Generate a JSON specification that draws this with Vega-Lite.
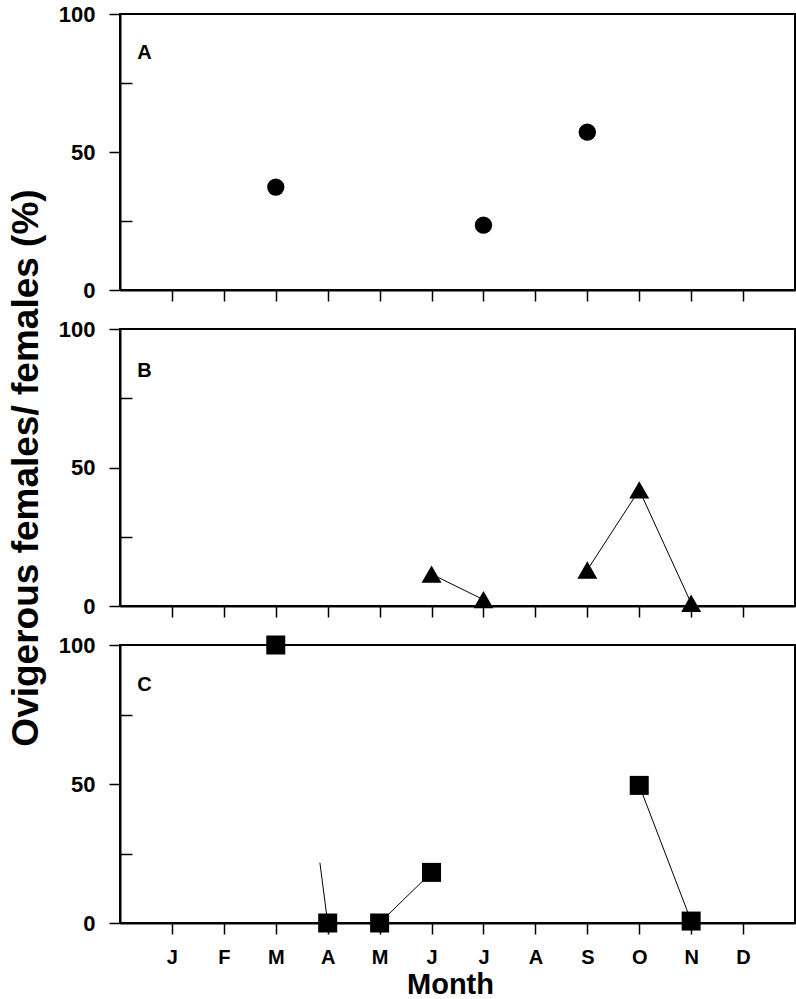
{
  "$schema": "https://vega.github.io/schema/vega-lite/v6.json",
  "padding": {"left": 6, "top": 2, "right": 0, "bottom": 0},
  "background": "white",
  "datasets": {
    "points": [
      {"panel": "A", "month": 3, "pct": 37.3},
      {"panel": "A", "month": 7, "pct": 23.5},
      {"panel": "A", "month": 9, "pct": 57.2},
      {"panel": "B", "month": 6, "pct": 11.5},
      {"panel": "B", "month": 7, "pct": 2.3},
      {"panel": "B", "month": 9, "pct": 13},
      {"panel": "B", "month": 10, "pct": 41.9},
      {"panel": "B", "month": 11, "pct": 1},
      {"panel": "C", "month": 3, "pct": 100},
      {"panel": "C", "month": 4, "pct": 0},
      {"panel": "C", "month": 5, "pct": 0},
      {"panel": "C", "month": 6, "pct": 18.2},
      {"panel": "C", "month": 10, "pct": 49.5},
      {"panel": "C", "month": 11, "pct": 0.7}
    ],
    "lines": [
      {"panel": "B", "seg": 1, "month": 6, "pct": 11.5},
      {"panel": "B", "seg": 1, "month": 7, "pct": 2.3},
      {"panel": "B", "seg": 2, "month": 9, "pct": 13},
      {"panel": "B", "seg": 2, "month": 10, "pct": 41.9},
      {"panel": "B", "seg": 2, "month": 11, "pct": 1},
      {"panel": "C", "seg": 3, "month": 3.85, "pct": 21.7},
      {"panel": "C", "seg": 3, "month": 4, "pct": 0},
      {"panel": "C", "seg": 4, "month": 5, "pct": 0},
      {"panel": "C", "seg": 4, "month": 6, "pct": 18.2},
      {"panel": "C", "seg": 5, "month": 10, "pct": 49.5},
      {"panel": "C", "seg": 5, "month": 11, "pct": 0.7}
    ]
  },
  "bounds": "flush",
  "spacing": 39,
  "vconcat": [
    {
      "width": 675,
      "height": 276,
      "layer": [
        {
          "data": {"name": "points"},
          "transform": [{"filter": "datum.panel === 'A'"}],
          "mark": {"type": "point", "shape": "circle", "filled": true, "color": "black", "opacity": 1, "size": 300},
          "encoding": {
            "x": {"field": "month", "type": "quantitative", "title": null, "scale": {"domain": [0, 13], "nice": false, "zero": false}, "axis": {"labels": false, "values": [1, 2, 3, 4, 5, 6, 7, 8, 9, 10, 11, 12]}},
            "y": {"field": "pct", "type": "quantitative", "title": null, "scale": {"domain": [0, 100], "nice": false}, "axis": {"values": [0, 25, 50, 75, 100]}}
          }
        },
        {
          "data": {"values": [{"label": "A"}]},
          "mark": {"type": "text", "align": "left", "baseline": "middle", "fontSize": 20, "fontWeight": "bold", "color": "black"},
          "encoding": {
            "x": {"datum": 0.33, "type": "quantitative"},
            "y": {"datum": 86, "type": "quantitative"},
            "text": {"field": "label"}
          }
        }
      ]
    },
    {
      "width": 675,
      "height": 277,
      "layer": [
        {
          "data": {"name": "lines"},
          "transform": [{"filter": "datum.panel === 'B'"}],
          "mark": {"type": "line", "color": "black", "strokeWidth": 1},
          "encoding": {
            "x": {"field": "month", "type": "quantitative", "title": null, "scale": {"domain": [0, 13], "nice": false, "zero": false}, "axis": {"labels": false, "values": [1, 2, 3, 4, 5, 6, 7, 8, 9, 10, 11, 12]}},
            "y": {"field": "pct", "type": "quantitative", "title": "Ovigerous females/ females (%)", "scale": {"domain": [0, 100], "nice": false}, "axis": {"values": [0, 25, 50, 75, 100]}},
            "detail": {"field": "seg"}
          }
        },
        {
          "data": {"name": "points"},
          "transform": [{"filter": "datum.panel === 'B'"}],
          "mark": {"type": "point", "shape": "triangle-up", "filled": true, "color": "black", "opacity": 1, "size": 400},
          "encoding": {
            "x": {"field": "month", "type": "quantitative", "title": null},
            "y": {"field": "pct", "type": "quantitative", "title": "Ovigerous females/ females (%)"}
          }
        },
        {
          "data": {"values": [{"label": "B"}]},
          "mark": {"type": "text", "align": "left", "baseline": "middle", "fontSize": 20, "fontWeight": "bold", "color": "black"},
          "encoding": {
            "x": {"datum": 0.33, "type": "quantitative"},
            "y": {"datum": 85, "type": "quantitative"},
            "text": {"field": "label"}
          }
        }
      ]
    },
    {
      "width": 675,
      "height": 278,
      "layer": [
        {
          "data": {"name": "lines"},
          "transform": [{"filter": "datum.panel === 'C'"}],
          "mark": {"type": "line", "color": "black", "strokeWidth": 1},
          "encoding": {
            "x": {"field": "month", "type": "quantitative", "title": "Month", "scale": {"domain": [0, 13], "nice": false, "zero": false}, "axis": {"values": [1, 2, 3, 4, 5, 6, 7, 8, 9, 10, 11, 12], "titleX": 330}},
            "y": {"field": "pct", "type": "quantitative", "title": null, "scale": {"domain": [0, 100], "nice": false}, "axis": {"values": [0, 25, 50, 75, 100]}},
            "detail": {"field": "seg"}
          }
        },
        {
          "data": {"name": "points"},
          "transform": [{"filter": "datum.panel === 'C'"}],
          "mark": {"type": "point", "shape": "square", "filled": true, "color": "black", "opacity": 1, "size": 361},
          "encoding": {
            "x": {"field": "month", "type": "quantitative", "title": "Month"},
            "y": {"field": "pct", "type": "quantitative", "title": null}
          }
        },
        {
          "data": {"values": [{"label": "C"}]},
          "mark": {"type": "text", "align": "left", "baseline": "middle", "fontSize": 20, "fontWeight": "bold", "color": "black"},
          "encoding": {
            "x": {"datum": 0.33, "type": "quantitative"},
            "y": {"datum": 85.5, "type": "quantitative"},
            "text": {"field": "label"}
          }
        }
      ]
    }
  ],
  "config": {
    "font": "Liberation Sans",
    "view": {"stroke": "black", "strokeWidth": 2},
    "axis": {"grid": false, "domainColor": "black", "domainWidth": 2, "tickColor": "black", "tickWidth": 1.5, "labelColor": "black", "labelFontWeight": "bold", "titleColor": "black", "labelOverlap": false},
    "axisX": {
      "labelExpr": "['','J','F','M','A','M','J','J','A','S','O','N','D'][datum.value]",
      "tickSize": 11,
      "labelFontSize": 20,
      "labelPadding": 13,
      "titleFontSize": 29,
      "titleFontWeight": "bold",
      "titlePadding": 3
    },
    "axisY": {
      "labelExpr": "datum.value % 50 === 0 ? datum.label : ''",
      "tickSize": {"condition": {"test": "datum.value % 50 === 0", "value": 11}, "value": -12},
      "labelFontSize": 22,
      "labelPadding": 14,
      "titleFontSize": 37,
      "titleFontWeight": "bold",
      "titlePadding": 13
    }
  }
}
